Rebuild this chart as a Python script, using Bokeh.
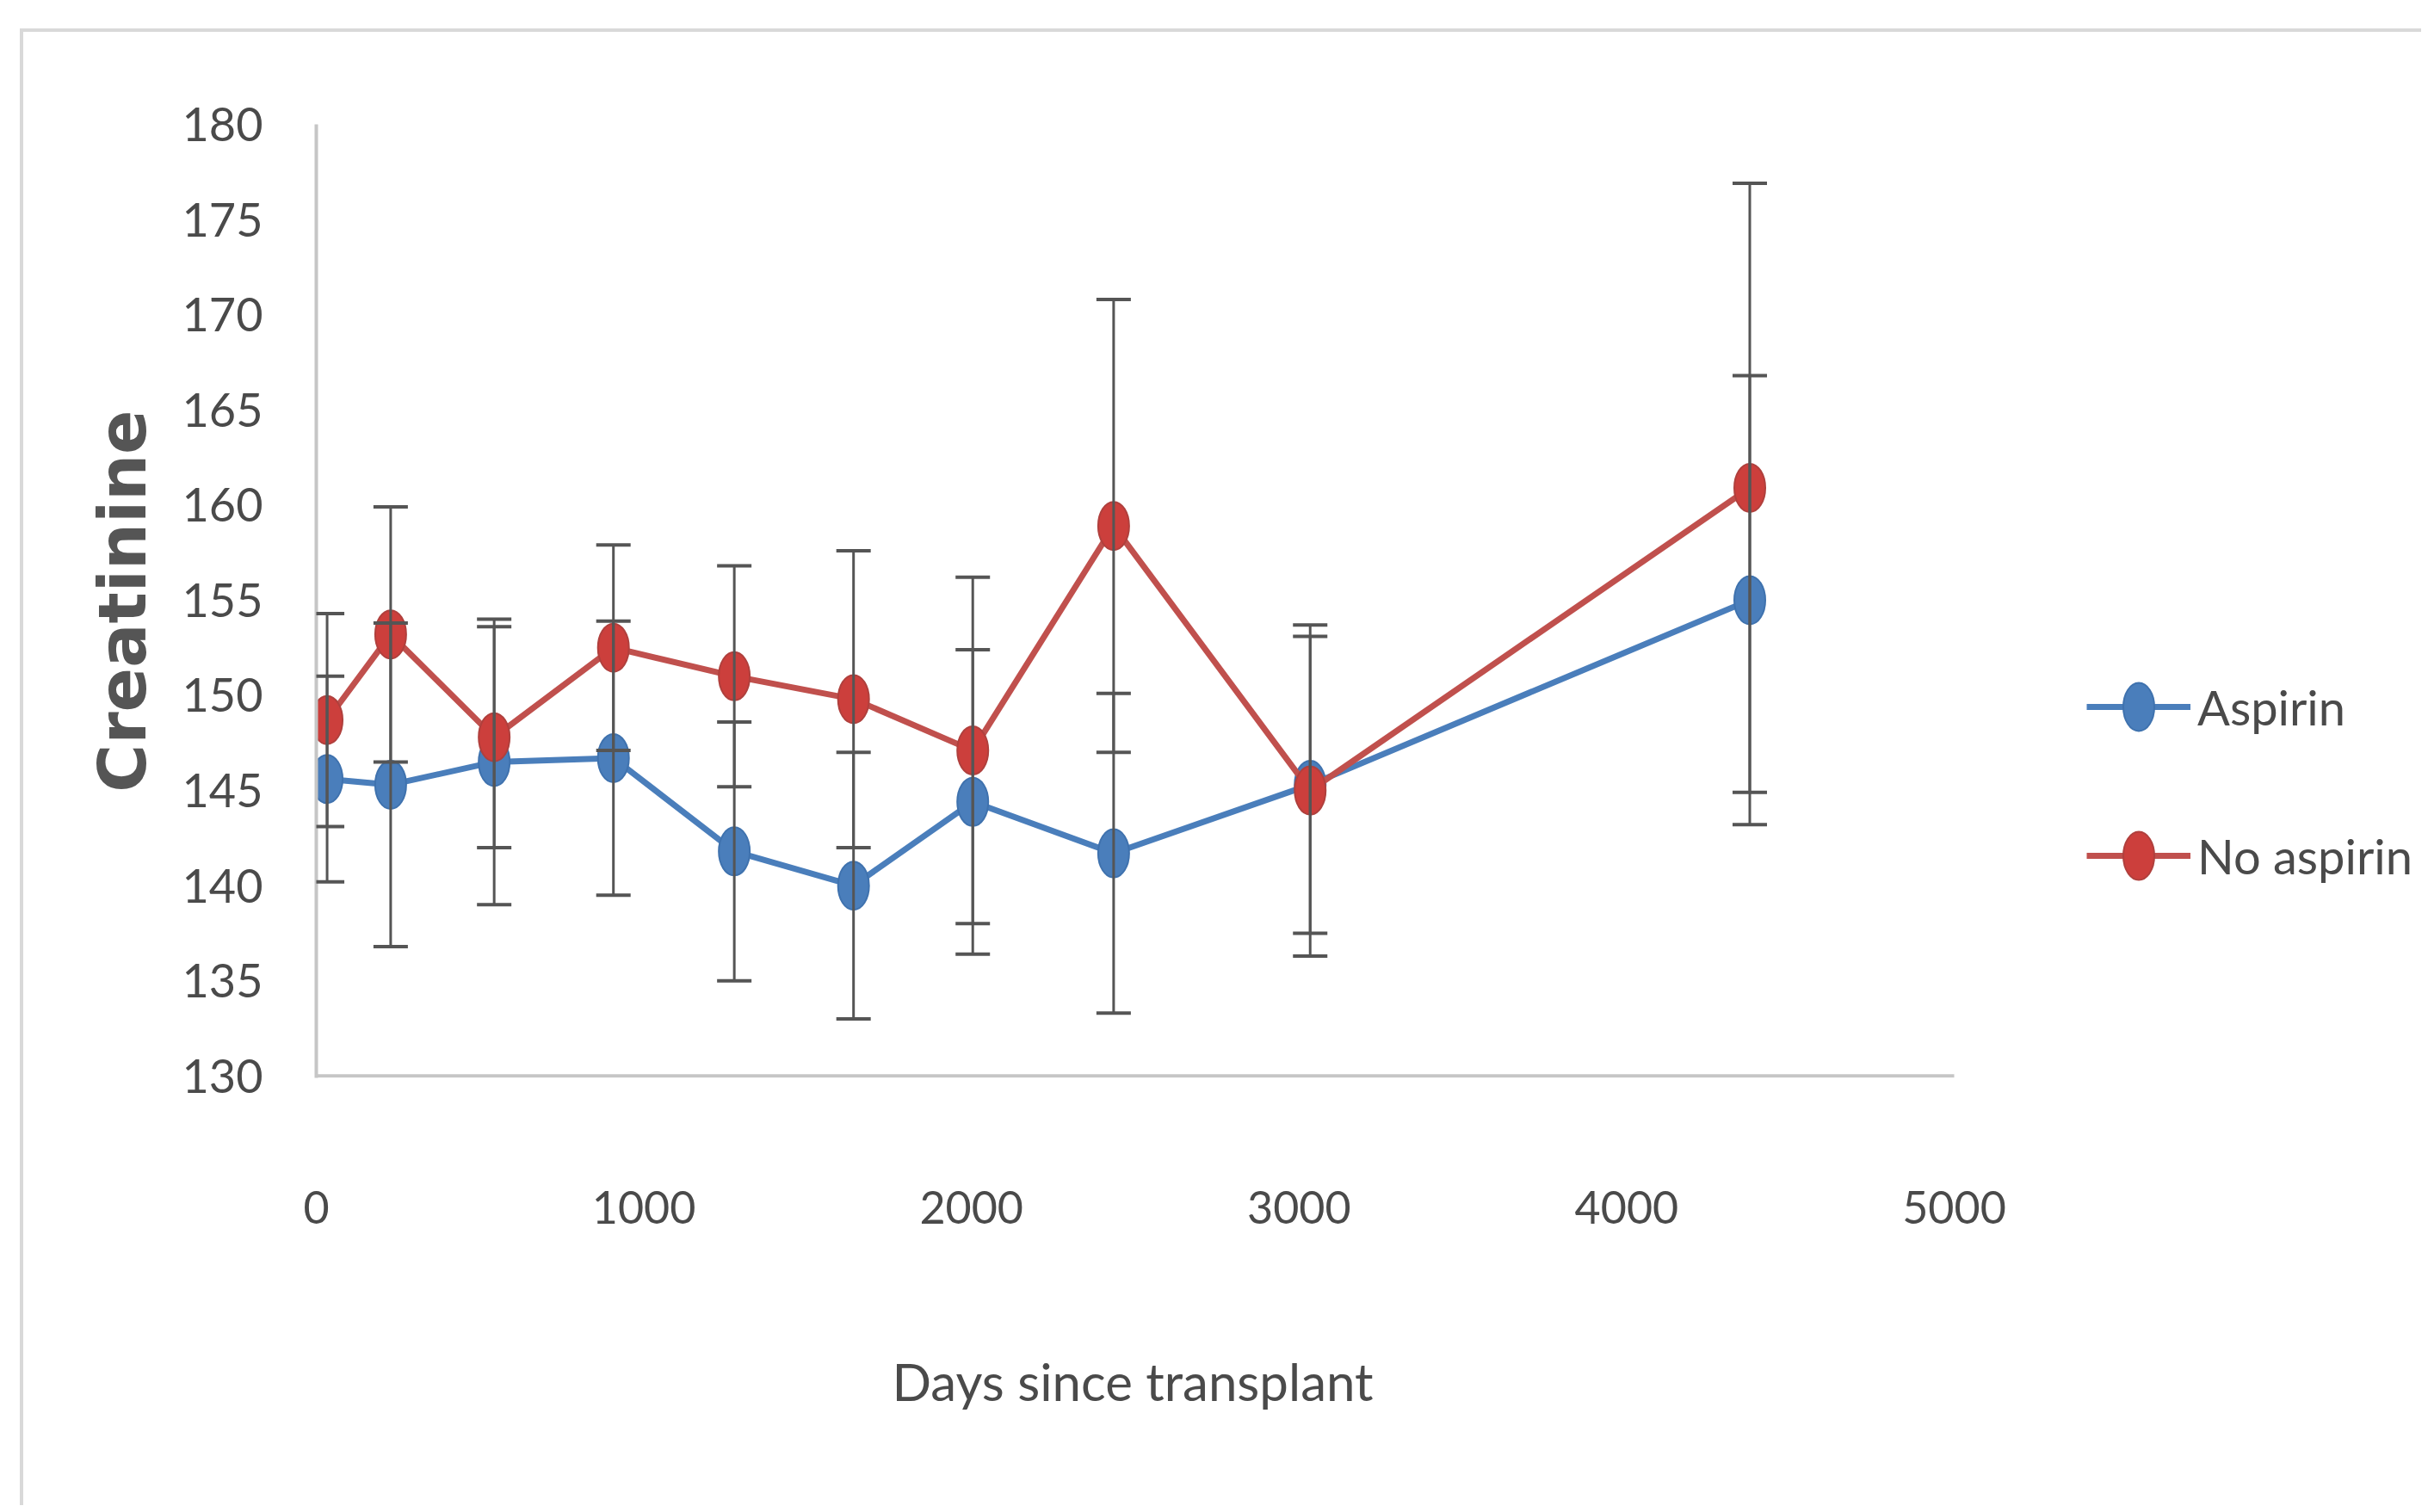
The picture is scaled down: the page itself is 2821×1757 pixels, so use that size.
from bokeh.plotting import figure
from bokeh.models import (ColumnDataSource, Whisker, TeeHead, Legend, LegendItem,
                          FixedTicker, Range1d, Title)
from bokeh.embed import file_html
from bokeh.resources import INLINE

# ---- data ----
days = [33, 227, 543, 907, 1276, 1640, 2004, 2434, 3034, 4376]
aspirin = [145.6, 145.3, 146.5, 146.7, 141.8, 140.0, 144.4, 141.7, 145.3, 155.0]
aspirin_err = [5.4, 8.5, 7.5, 7.2, 6.8, 7.0, 8.0, 8.4, 7.8, 11.8]
no_aspirin = [148.7, 153.2, 147.8, 152.5, 151.0, 149.8, 147.1, 158.9, 145.0, 160.9]
no_aspirin_err = [5.6, 6.7, 5.8, 5.4, 5.8, 7.8, 9.1, 11.9, 8.7, 16.0]
series_names = ["Aspirin", "No aspirin"]
x_ticks = [0, 1000, 2000, 3000, 4000, 5000]
y_ticks = [130, 135, 140, 145, 150, 155, 160, 165, 170, 175, 180]
x_title = "Days since transplant"
y_title = "Creatinine"

BLUE = "#4a7ebb"
RED = "#c0504d"
BAR = "#555555"
AXIS = "#c6c6c6"
TXT = "#4a4a4a"
FONT = "Lato"

# ---- layout (pixels) ----
OFF_X, OFF_Y = 27, 37          # canvas offset caused by the chart-area border
CW, CH = 2821 - OFF_X - 4, 1757 - OFF_Y - 4
LEFT, TOP = 367 - OFF_X, 144 - OFF_Y
AXIS_PX = 1903                 # pixel length of the 0..5000 axis
FW = CW - LEFT                 # frame reaches the right edge (room for the legend)
FH = 1108
Y_PAD = 0.1                    # keeps the y=130 axis line fully inside the frame

p = figure(width=CW, height=CH, output_backend="svg", toolbar_location=None,
           x_range=Range1d(x_ticks[0], x_ticks[-1] * FW / AXIS_PX),
           y_range=Range1d(y_ticks[0] - Y_PAD, y_ticks[-1]),
           min_border_left=LEFT, min_border_top=TOP, min_border_right=0,
           min_border_bottom=CH - TOP - FH)
p.styles = {"margin-left": "23px", "margin-top": "33px",
            "border-left": "4px solid #d9d9d9", "border-top": "4px solid #d9d9d9"}
p.outline_line_color = None
p.xgrid.visible = False
p.ygrid.visible = False
p.background_fill_color = "white"
p.border_fill_color = "white"

# axes
for ax in (p.xaxis[0], p.yaxis[0]):
    ax.major_tick_line_color = None
    ax.minor_tick_line_color = None
    ax.major_tick_out = 0
    ax.major_tick_in = 0
    ax.major_label_text_color = TXT
    ax.major_label_text_font = FONT
p.yaxis.axis_line_color = AXIS
p.yaxis.axis_line_width = 4
p.xaxis.axis_line_color = None

p.xaxis.major_label_text_font_size = "52px"
p.yaxis.major_label_text_font_size = "54px"
p.xaxis.ticker = FixedTicker(ticks=x_ticks)
p.yaxis.ticker = FixedTicker(ticks=y_ticks)
p.xaxis.major_label_standoff = 131
p.yaxis.major_label_standoff = 62

p.yaxis.axis_label = y_title
p.yaxis.axis_label_text_font = "DejaVu Sans"
p.yaxis.axis_label_text_font_style = "bold"
p.yaxis.axis_label_text_font_size = "76px"
p.yaxis.axis_label_text_color = "#555555"
p.yaxis.axis_label_standoff = 22

# x-axis line over the 0..5000 span only
p.segment(x0=[x_ticks[0]], y0=[y_ticks[0]], x1=[x_ticks[-1]], y1=[y_ticks[0]],
          line_color=AXIS, line_width=4)

# x-axis title, centred under the 0..5000 span (leading blank line pushes it down)
p.add_layout(Title(text="\n" + x_title, align="left", offset=669, standoff=140,
                   text_font=FONT, text_font_size="60px", text_font_style="normal",
                   text_color=TXT), "below")

# series
src_a = ColumnDataSource(dict(x=days, y=aspirin,
                              lo=[v - e for v, e in zip(aspirin, aspirin_err)],
                              hi=[v + e for v, e in zip(aspirin, aspirin_err)]))
src_n = ColumnDataSource(dict(x=days, y=no_aspirin,
                              lo=[v - e for v, e in zip(no_aspirin, no_aspirin_err)],
                              hi=[v + e for v, e in zip(no_aspirin, no_aspirin_err)]))

la = p.line("x", "y", source=src_a, line_color=BLUE, line_width=7)
ea = p.ellipse("x", "y", source=src_a, width=36, height=56, width_units="screen",
               height_units="screen", fill_color=BLUE, line_color="#3f72ae", line_width=2)
ln = p.line("x", "y", source=src_n, line_color=RED, line_width=7)
en = p.ellipse("x", "y", source=src_n, width=36, height=56, width_units="screen",
               height_units="screen", fill_color="#cc3f3c", line_color="#b0403d", line_width=2)

for src in (src_a, src_n):
    w = Whisker(source=src, base="x", lower="lo", upper="hi", level="annotation",
                line_color=BAR, line_width=3,
                upper_head=TeeHead(size=40, line_color=BAR, line_width=4),
                lower_head=TeeHead(size=40, line_color=BAR, line_width=4))
    p.add_layout(w)

legend = Legend(items=[LegendItem(label=series_names[0], renderers=[la, ea]),
                       LegendItem(label=series_names[1], renderers=[ln, en])],
                location=(2057, 223), orientation="vertical",
                glyph_width=121, glyph_height=70, label_height=70, spacing=103,
                padding=10, margin=0, label_standoff=8,
                border_line_color=None, background_fill_alpha=0,
                label_text_font=FONT, label_text_font_size="56px", label_text_color=TXT)
p.add_layout(legend)

open("out.html", "w").write(file_html(p, INLINE))
